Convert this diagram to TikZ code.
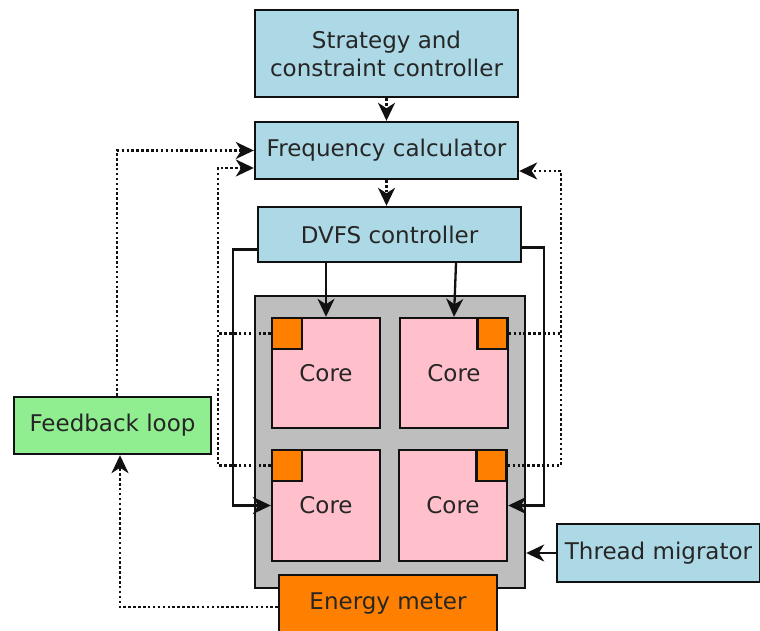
\documentclass[tikz,border=0pt]{standalone}
\usepackage{fontspec}
\setmainfont{DejaVu Sans}
\usetikzlibrary{arrows.meta}
\definecolor{boxblue}{HTML}{ADD8E6}
\definecolor{chipgray}{HTML}{BEBEBE}
\definecolor{corepink}{HTML}{FFC0CB}
\definecolor{sensororange}{HTML}{FF7F00}
\definecolor{fbgreen}{HTML}{90EE90}
\definecolor{edge}{HTML}{111111}
\tikzset{
  box/.style={draw=edge, line width=2.4pt, inner sep=0pt, align=center,
    font=\fontsize{23}{28}\selectfont, text=black!85},
  bluebox/.style={box, fill=boxblue},
  sensor/.style={draw=edge, line width=2.4pt, fill=sensororange, inner sep=0pt,
    minimum width=30pt, minimum height=31pt},
  core/.style={box, fill=corepink, minimum width=108pt, minimum height=110pt},
  myarrow/.style={-{Stealth[length=18pt,width=17pt,inset=5.5pt]}},
  solidarrow/.style={myarrow, draw=edge, line width=2.3pt},
  dotline/.style={draw=edge, line width=2.7pt, dash pattern=on 2.5pt off 2.4pt},
  dotarrow/.style={dotline, myarrow},
}
\begin{document}
\begin{tikzpicture}[x=1pt,y=-1pt]
\useasboundingbox (0,0) rectangle (760,631);
% boxes
\node[bluebox, minimum width=263pt, minimum height=87pt] (strat) at (386.5,53.5) {Strategy and\\constraint controller};
\node[bluebox, minimum width=263pt, minimum height=57pt] (freq) at (386.5,150.5) {Frequency calculator};
\node[bluebox, minimum width=263pt, minimum height=55pt] (dvfs) at (389.5,234.5) {DVFS controller};
\node[draw=edge, line width=2.4pt, fill=chipgray, minimum width=270pt, minimum height=292pt, inner sep=0pt] (chip) at (390,442) {};
\node[core] (cTL) at (326,373) {Core};
\node[core] (cTR) at (454,373) {Core};
\node[core, minimum height=111pt] (cBL) at (326,505.5) {Core};
\node[core, minimum height=111pt] (cBR) at (453,505.5) {Core};
\node[sensor] (oTL) at (287,333.5) {};
\node[sensor] (oTR) at (492.5,333.5) {};
\node[sensor] (oBL) at (287,465.5) {};
\node[sensor] (oBR) at (491.5,465.5) {};
\node[box, fill=fbgreen, minimum width=197pt, minimum height=57pt] (fb) at (112.5,425.5) {Feedback loop};
\node[bluebox, minimum width=203pt, minimum height=58pt] (tm) at (658.5,553) {Thread migrator};
\node[box, fill=sensororange, minimum width=218pt, minimum height=58pt] (em) at (388,604) {Energy meter};
\coordinate (lx) at (218,0);
\coordinate (rx) at (561,0);
% control flow
\draw[dotarrow] (strat.south) -- (freq.north);
\draw[dotarrow] (freq.south) -- (freq.south |- dvfs.north);
\draw[solidarrow] (cTL.north |- dvfs.south) -- (cTL.north);
\draw[solidarrow] ([xshift=2pt]cTR.north |- dvfs.south) -- (cTR.north);
\draw[solidarrow] ([yshift=-15pt]dvfs.west) -- ++(-24,0) |- (cBL.west);
\draw[solidarrow] ([yshift=-13pt]dvfs.east) -- ++(22,0) |- (cBR.east);
\draw[solidarrow] (tm.west) -- (tm.west -| chip.east);
% feedback
\draw[dotline] (oTL.west) -- (oTL.west -| lx);
\draw[dotarrow] (oBL.west) -| ([yshift=-17.5pt]freq.west -| lx) -- ([yshift=-17.5pt]freq.west);
\draw[dotline] (oTR.east) -- (oTR.east -| rx);
\draw[dotarrow] (oBR.east) -| ([yshift=-20.5pt]freq.east -| rx) -- ([yshift=-20.5pt]freq.east);
\draw[dotarrow] ([xshift=4.5pt]fb.north) |- (freq.west);
\draw[dotarrow] ([yshift=-3pt]em.west) -| ([xshift=7.5pt]fb.south);
\end{tikzpicture}
\end{document}
